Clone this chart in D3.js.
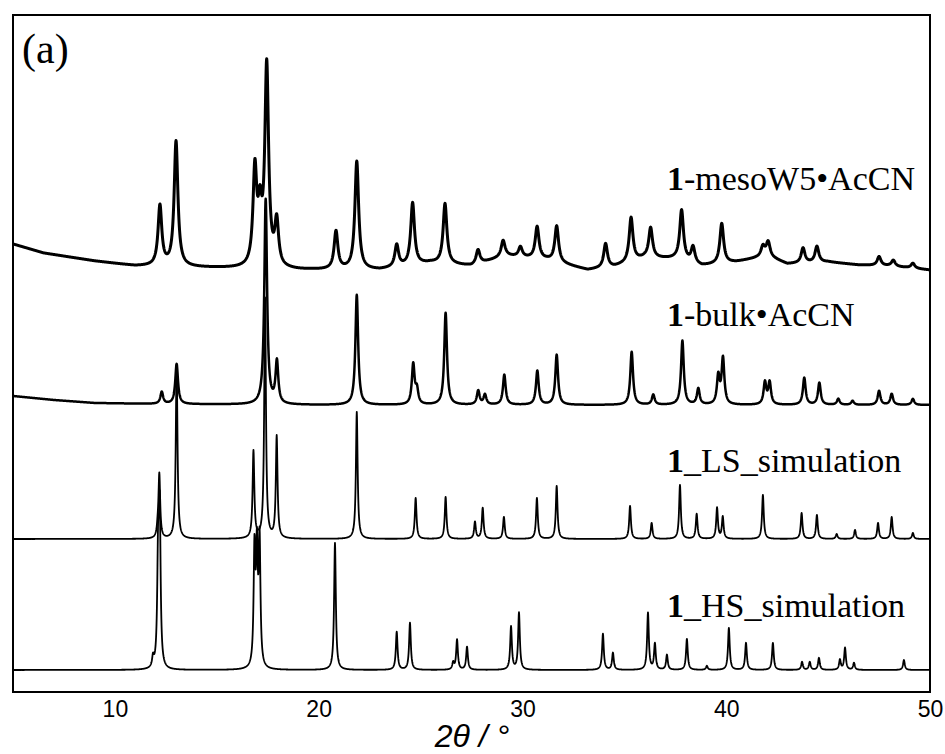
<!DOCTYPE html>
<html lang="en">
<head>
  <meta charset="UTF-8">
  <title>PXRD patterns</title>
  <script src="https://cdn.jsdelivr.net/npm/d3@7/dist/d3.min.js"></script>
  <style>
    body { margin: 0; background: #fff; }
  </style>
</head>
<body>
  <div id="chart"></div>

  <script>
    // x axis (2theta, degrees)
    var xDomain = [5, 50];
    var xTicks = [10, 20, 30, 40, 50];

    // trace labels (the leading "1" is drawn bold)
    var labels = ["-mesoW5\u2022AcCN", "-bulk\u2022AcCN", "_LS_simulation", "_HS_simulation"];

    // backgrounds [2theta, intensity a.u.] (traces are stacked)
    var mesoBg = [[5, 448], [6.5, 439], [9, 431], [11, 426], [15, 424], [19, 422], [23, 422], [25.5, 429],
                  [27.5, 426], [29.2, 436], [31.2, 432], [33.2, 422], [34.5, 425], [36, 434], [37.5, 433],
                  [38.8, 426], [40.5, 430], [42, 436], [43, 428], [45, 430], [46.5, 427], [48, 426], [50, 422]];
    var bulkBg = [[5, 296], [7, 292], [9, 289], [12, 288], [20, 287], [50, 287]];
    var lsBg = [[5, 153], [50, 153]];
    var hsBg = [[5, 22], [50, 22]];

    // peaks [2theta, height above background]
    var mesoPeaks = [[12.21, 60], [13.0, 125], [16.87, 95], [17.12, 48], [17.45, 200], [17.94, 44],
                     [20.85, 38], [21.87, 108], [23.83, 22], [24.61, 62], [26.2, 60], [27.82, 14],
                     [29.05, 16], [29.9, 10], [30.72, 32], [31.68, 36], [34.08, 24], [35.33, 44],
                     [36.29, 30], [37.81, 50], [38.37, 16], [39.78, 40], [41.8, 10], [42.06, 14],
                     [43.77, 15], [44.45, 16], [47.5, 9], [48.2, 6], [49.16, 5]];
    var bulkPeaks = [[12.3, 12], [13.03, 40], [17.4, 205], [17.95, 42], [21.87, 110], [24.64, 40],
                     [24.82, 14], [26.23, 92], [27.83, 14], [28.16, 10], [29.11, 30], [30.73, 34],
                     [31.68, 50], [35.36, 53], [36.42, 10], [37.85, 64], [38.63, 16], [39.61, 28],
                     [39.84, 46], [41.9, 22], [42.13, 22], [43.83, 27], [44.57, 22], [45.5, 6],
                     [46.2, 4], [47.5, 14], [48.12, 11], [49.16, 6]];
    var lsPeaks = [[12.1, 7], [12.18, 64], [13.03, 174], [16.8, 87], [17.37, 240], [17.94, 102],
                   [21.87, 127], [24.76, 41], [26.23, 42], [27.67, 17], [28.05, 31], [29.09, 22],
                   [30.71, 41], [31.68, 53], [35.28, 33], [36.34, 16], [37.73, 54], [38.55, 25],
                   [39.55, 31], [39.83, 22], [41.8, 44], [43.7, 26], [44.45, 24], [45.42, 5],
                   [46.32, 9], [47.45, 16], [48.12, 22], [49.16, 6]];
    var hsPeaks = [[11.87, 10], [12.12, 105], [12.2, 150], [16.85, 115], [16.97, 110], [17.1, 125],
                   [20.8, 127], [23.83, 38], [24.48, 47], [26.6, 7], [26.79, 30], [27.28, 23],
                   [29.44, 43], [29.83, 57], [33.95, 36], [34.44, 17], [36.16, 57], [36.5, 26],
                   [37.09, 15], [38.07, 31], [39.05, 4], [40.13, 42], [40.97, 27], [42.29, 27],
                   [43.72, 8], [44.1, 8], [44.55, 12], [45.58, 10], [45.83, 22], [46.27, 7],
                   [48.72, 10]];

    var width = 945, height = 754;
    var margin = { top: 15, right: 15, bottom: 62, left: 13 };

    var svg = d3.select("#chart")
      .append("svg")
      .attr("width", width)
      .attr("height", height);

    var x = d3.scaleLinear()
      .domain(xDomain)
      .range([margin.left, width - margin.right]);

    var y = d3.scaleLinear()
      .domain([0, 677])
      .range([height - margin.bottom, margin.top]);

    svg.append("clipPath")
      .attr("id", "plot-clip")
      .append("rect")
      .attr("x", margin.left)
      .attr("y", margin.top)
      .attr("width", width - margin.left - margin.right)
      .attr("height", height - margin.top - margin.bottom);

    // build a pattern: background + peak profiles
    function pattern(bg, peaks, w) {
      var base = d3.scaleLinear().domain(bg.map(d => d[0])).range(bg.map(d => d[1]));
      var pts = [];
      for (var t = xDomain[0]; t <= xDomain[1] + 1e-9; t += 0.01) {
        var v = base(t);
        peaks.forEach(function (p) {
          var u = (t - p[0]) / w;
          v += p[1] / (1 + u * u);
        });
        pts.push([t, v]);
      }
      return pts;
    }

    var traces = [
      { bg: mesoBg, peaks: mesoPeaks, w: 0.11, sw: 3 },
      { bg: bulkBg, peaks: bulkPeaks, w: 0.08, sw: 2.5 },
      { bg: lsBg, peaks: lsPeaks, w: 0.05, sw: 1.8 },
      { bg: hsBg, peaks: hsPeaks, w: 0.05, sw: 1.8 }
    ];

    var line = d3.line()
      .x(d => x(d[0]))
      .y(d => y(d[1]));

    svg.append("g")
      .attr("clip-path", "url(#plot-clip)")
      .selectAll("path")
      .data(traces)
      .enter()
      .append("path")
      .attr("fill", "none")
      .attr("stroke", "#000")
      .attr("stroke-width", d => d.sw)
      .attr("stroke-linejoin", "round")
      .attr("d", d => line(pattern(d.bg, d.peaks, d.w)));

    // frame
    svg.append("rect")
      .attr("x", margin.left)
      .attr("y", margin.top)
      .attr("width", width - margin.left - margin.right)
      .attr("height", height - margin.top - margin.bottom)
      .attr("fill", "none")
      .attr("stroke", "#000")
      .attr("stroke-width", 2);

    // x axis labels only
    var xAxis = svg.append("g")
      .attr("transform", "translate(0," + (height - margin.bottom) + ")")
      .call(d3.axisBottom(x).tickValues(xTicks).tickSize(0).tickPadding(9));
    xAxis.select(".domain").remove();
    xAxis.selectAll("text")
      .attr("fill", "#000")
      .style("font-family", "'Liberation Sans', Arial, sans-serif")
      .style("font-size", "23px");

    svg.append("text")
      .attr("x", 472)
      .attr("y", 747)
      .attr("text-anchor", "middle")
      .style("font-family", "'Liberation Sans', Arial, sans-serif")
      .style("font-size", "32px")
      .style("font-style", "italic")
      .text("2\u03b8 / \u00b0");

    // panel tag
    svg.append("text")
      .attr("x", 22)
      .attr("y", 63)
      .style("font-family", "'Liberation Serif', 'Times New Roman', serif")
      .style("font-size", "42px")
      .text("(a)");

    // trace labels
    var labelY = [190, 326, 472, 617];
    var lab = svg.selectAll(".label")
      .data(labels)
      .enter()
      .append("text")
      .attr("class", "label")
      .attr("x", 667)
      .attr("y", (d, i) => labelY[i])
      .style("font-family", "'Liberation Serif', 'Times New Roman', serif")
      .style("font-size", "34px");
    lab.append("tspan").style("font-weight", "bold").text("1");
    lab.append("tspan").text(d => d);
  </script>
</body>
</html>
